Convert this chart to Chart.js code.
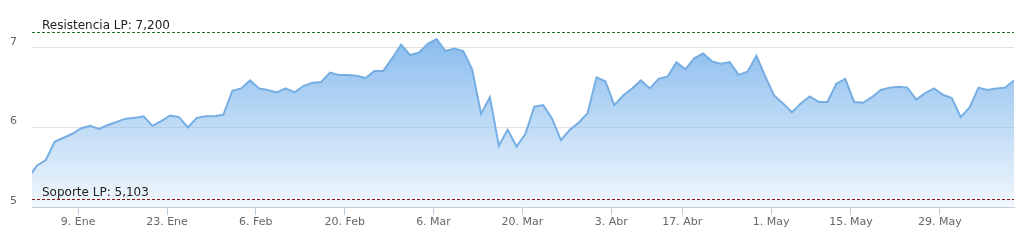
<!DOCTYPE html>
<html lang="es">
<head>
<meta charset="utf-8">
<title>Cotización</title>
<script src="https://cdn.jsdelivr.net/npm/chart.js@4/dist/chart.umd.min.js"></script>
<style>
  html, body { margin: 0; padding: 0; background: #fff; }
  #wrap { width: 1024px; height: 243px; position: relative; }
</style>
</head>
<body>
<div id="wrap"><canvas id="grafico"></canvas></div>
<script>
// ==================== DATOS ====================

// cierre de cada sesión (ene - jun), eje ordinal: una sesión = un paso
const cierres = [
  5.36, 5.52, 5.59, 5.82, 5.87, 5.92, 5.99, 6.02, 5.98, 6.03,
  6.07, 6.11, 6.12, 6.14, 6.02, 6.08, 6.15, 6.13, 6.00, 6.12,
  6.14, 6.14, 6.16, 6.46, 6.49, 6.59, 6.49, 6.47, 6.44, 6.49,
  6.44, 6.52, 6.56, 6.57, 6.69, 6.66, 6.66, 6.65, 6.62, 6.71,
  6.71, 6.87, 7.04, 6.91, 6.94, 7.05, 7.11, 6.96, 6.99, 6.96,
  6.73, 6.17, 6.38, 5.77, 5.97, 5.76, 5.92, 6.26, 6.28, 6.11,
  5.84, 5.97, 6.06, 6.18, 6.63, 6.58, 6.28, 6.40, 6.49, 6.59,
  6.49, 6.61, 6.64, 6.82, 6.73, 6.87, 6.93, 6.83, 6.80, 6.82,
  6.66, 6.70, 6.90, 6.64, 6.40, 6.30, 6.19, 6.30, 6.39, 6.32,
  6.32, 6.55, 6.61, 6.32, 6.31, 6.38, 6.47, 6.50, 6.51, 6.50,
  6.35, 6.43, 6.49, 6.41, 6.37, 6.13, 6.25, 6.50, 6.47, 6.49,
  6.50, 6.59
];

// etiquetas de fecha del eje X y la sesión a la que corresponde cada una
const etiquetasX = ["9. Ene", "23. Ene", "6. Feb", "20. Feb", "6. Mar", "20. Mar",
                    "3. Abr", "17. Abr", "1. May", "15. May", "29. May"];
const sesionEtiqueta = [6, 16, 26, 36, 46, 56, 66, 74, 84, 93, 103];

// marcas del eje Y
const ticksY = [5, 6, 7];

// niveles de largo plazo
const resistenciaLP = 7.2;
const soporteLP = 5.103;

// ==================== ESTILO ====================
const FUENTE = '"DejaVu Sans", Verdana, sans-serif';
const AZUL = "124,181,236";

const fmt = v => v.toFixed(3).replace(".", ",");

const lineasNivel = [
  { valor: resistenciaLP, texto: "Resistencia LP: " + fmt(resistenciaLP), color: "#1f6b2a" },
  { valor: soporteLP,     texto: "Soporte LP: " + fmt(soporteLP),         color: "#8f1515" }
];

// PLUGIN: líneas discontinuas de soporte / resistencia con su texto
const pluginNiveles = {
  id: "niveles",
  afterDatasetsDraw(chart) {
    const { ctx, chartArea } = chart;
    const y = chart.scales.y;
    ctx.save();
    for (const l of lineasNivel) {
      const py = Math.round(y.getPixelForValue(l.valor)) + 0.5;
      ctx.beginPath();
      ctx.setLineDash([3, 2]);
      ctx.lineWidth = 1;
      ctx.strokeStyle = l.color;
      ctx.moveTo(chartArea.left, py);
      ctx.lineTo(chartArea.right, py);
      ctx.stroke();

      ctx.setLineDash([]);
      ctx.font = "12px " + FUENTE;
      ctx.fillStyle = "#222";
      ctx.textAlign = "left";
      ctx.textBaseline = "alphabetic";
      ctx.fillText(l.texto, chartArea.left + 10, py - 4);
    }
    ctx.restore();
  }
};

// ==================== GRÁFICO ====================
const canvas = document.getElementById("grafico");

new Chart(canvas, {
  type: "line",
  data: {
    datasets: [{
      data: cierres.map((v, i) => ({ x: i, y: v })),
      borderColor: "rgb(118,174,228)",
      borderWidth: 2,
      pointRadius: 0,
      tension: 0,
      clip: 0,
      fill: "start",
      backgroundColor: (c) => {
        const area = c.chart.chartArea;
        if (!area) return "rgba(" + AZUL + ",0.5)";
        const g = c.chart.ctx.createLinearGradient(0, area.top, 0, area.bottom);
        g.addColorStop(0, "rgba(" + AZUL + ",1)");
        g.addColorStop(1, "rgba(" + AZUL + ",0.1)");
        return g;
      }
    }]
  },
  options: {
    responsive: true,
    maintainAspectRatio: false,
    animation: false,
    layout: { padding: { top: 16, right: 10, left: 0, bottom: 0 } },
    plugins: {
      legend: { display: false },
      tooltip: { enabled: false }
    },
    scales: {
      x: {
        type: "linear",
        min: 0.45,
        max: cierres.length - 1,
        afterBuildTicks: (s) => {
          // la etiqueta de fecha cae un poco antes del punto de la sesión
          s.ticks = sesionEtiqueta.map(i => ({ value: i - 0.35 }));
        },
        afterFit: (s) => { s.height = 36; s.paddingLeft = 0; s.paddingRight = 0; },
        grid: {
          drawOnChartArea: false,
          drawTicks: true,
          tickLength: 8,
          tickColor: "#c0d0e0"
        },
        border: { color: "#c0d0e0", width: 1 },
        ticks: {
          autoSkip: false,
          maxRotation: 0,
          padding: 1,
          color: "#666",
          font: { family: FUENTE, size: 11 },
          callback: (v, i) => etiquetasX[i]
        }
      },
      y: {
        min: ticksY[0],
        max: 7.4,
        afterBuildTicks: (s) => { s.ticks = ticksY.map(v => ({ value: v })); },
        afterFit: (s) => { s.width = 32; s.paddingTop = 0; s.paddingBottom = 0; },
        border: { display: false },
        grid: {
          drawTicks: false,
          color: (c) => (c.tick && c.tick.value === ticksY[0]) ? "rgba(0,0,0,0)" : "#e3e3e3"
        },
        ticks: {
          padding: 15,
          labelOffset: -6,
          color: "#666",
          font: { family: FUENTE, size: 11 },
          callback: (v) => String(v)
        }
      }
    }
  },
  plugins: [pluginNiveles]
});
</script>
</body>
</html>
